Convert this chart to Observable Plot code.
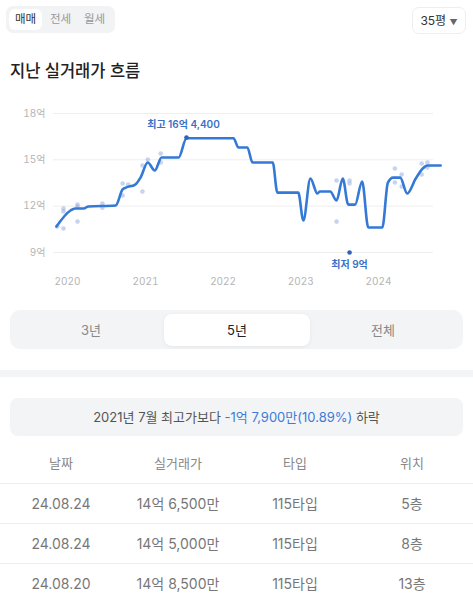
<!DOCTYPE html>
<html><head><meta charset="utf-8">
<script src="https://cdn.jsdelivr.net/npm/d3@7"></script>
<script src="https://cdn.jsdelivr.net/npm/@observablehq/plot@0.6"></script>
<style>
body{margin:0;width:473px;height:599px;background:#fff;font-family:Inter,"Noto Sans CJK KR",sans-serif;position:relative;overflow:hidden;color:#222}
.abs{position:absolute}
.tabs{left:6px;top:6px;width:109px;height:27px;background:#f2f3f5;border-radius:7px}
.tab{position:absolute;top:3px;height:21px;line-height:21px;font-size:11.5px;color:#999;text-align:center;width:33px}
.tab.on{background:#fff;color:#333;border-radius:6px}
.size{left:412px;top:7px;width:52px;height:25px;border:1px solid #eee;border-radius:7px;font-size:12px;line-height:25px;text-align:center;color:#333}
.title{left:10px;top:58px;font-size:16.5px;font-weight:500;color:#222}
#chart{left:0;top:100px}
.seg{left:10px;top:310px;width:453px;height:39px;background:#f3f4f6;border-radius:10px}
.segbtn{position:absolute;top:4px;height:32px;line-height:32px;text-align:center;font-size:13px;color:#888;width:146px}
.segbtn.on{background:#fff;color:#222;border-radius:8px;box-shadow:0 1px 4px rgba(0,0,0,0.06)}
.sep{left:0;top:370px;width:473px;height:7px;background:#f3f4f6}
.info{left:10px;top:398px;width:453px;height:38px;background:#f3f4f6;border-radius:8px;font-size:13px;line-height:38px;text-align:center;color:#555}
.info span{color:#3d7bd9}
.cell{position:absolute;width:120px;margin-left:-60px;text-align:center;font-size:14px;color:#777;font-weight:400;line-height:20px}
.hdr{font-size:13px;color:#888}
.hl{position:absolute;left:0;width:473px;height:1px;background:#eee}
</style></head>
<body>
<div class="abs tabs"><div class="tab on" style="left:3px">매매</div><div class="tab" style="left:38px">전세</div><div class="tab" style="left:72px">월세</div></div>
<div class="abs size">35평 <span style="font-size:8px;color:#666">▼</span></div>
<div class="abs title">지난 실거래가 흐름</div>
<div class="abs" id="chart"></div>
<div class="abs seg"><div class="segbtn" style="left:8px">3년</div><div class="segbtn on" style="left:154px">5년</div><div class="segbtn" style="left:300px">전체</div></div>
<div class="abs sep"></div>
<div class="abs info">2021년 7월 최고가보다 <span>-1억 7,900만(10.89%)</span> 하락</div>
<div id="table"></div>
<script>
// smoothed trend line (억)
const lineDates = ["2019-11-10","2020-01-15","2020-02-06","2020-03-17","2020-04-08","2020-08-14","2020-09-16","2020-10-01","2020-11-14","2020-12-09","2021-01-12","2021-02-14","2021-03-18","2021-06-06","2021-07-13","2022-02-19","2022-03-14","2022-04-25","2022-05-19","2022-08-22","2022-09-13","2022-12-20","2023-01-13","2023-02-15","2023-03-20","2023-04-01","2023-05-19","2023-06-18","2023-07-17","2023-08-12","2023-09-13","2023-10-16","2023-11-14","2024-01-19","2024-02-14","2024-03-10","2024-04-12","2024-05-15","2024-06-24","2024-07-27","2024-08-18","2024-10-19"];
const lineValues = [10.68,11.72,11.85,11.85,11.98,12.04,13.08,13.2,13.4,13.85,14.83,14.31,15.15,15.15,16.4,16.4,15.8,15.8,14.83,14.83,12.88,12.88,11.07,13.79,12.82,12.95,12.95,12.37,13.79,12.1,12.1,13.6,10.62,10.62,13.53,13.85,13.85,12.82,13.79,14.44,14.63,14.63];
// individual transactions (억)
const dealDates = ["2019-11-14","2019-12-13","2019-12-13","2019-12-13","2020-02-17","2020-02-17","2020-02-17","2020-06-13","2020-06-13","2020-09-16","2020-09-16","2020-10-12","2020-12-18","2020-12-18","2021-01-12","2021-03-14","2021-03-14","2023-06-18","2023-06-18","2023-08-18","2023-08-18","2024-03-18","2024-03-18","2024-04-19","2024-04-19","2024-07-22","2024-07-22","2024-08-18","2024-08-18"];
const dealValues = [10.68,10.55,11.85,11.66,11.0,11.98,12.1,12.17,11.9,13.47,12.69,13.4,12.95,14.63,15.02,15.41,14.83,13.66,11.0,13.66,13.47,14.44,13.53,14.05,13.27,14.76,14.05,14.83,14.5];
// extremes
const extremeDates = ["2021-07-13","2023-08-18"];
const extremeValues = [16.44,9.0];
const extremeLabels = ["최고 16억 4,400","최저 9억"];
const yTicks = [9,12,15,18];
// table
const tableHeaders = ["날짜","실거래가","타입","위치"];
const tableDates = ["24.08.24","24.08.24","24.08.20"];
const tablePrices = ["14억 6,500만","14억 5,000만","14억 8,500만"];
const tableTypes = ["115타입","115타입","115타입"];
const tableFloors = ["5층","8층","13층"];

const line = lineDates.map((d,i)=>({date:new Date(d),v:lineValues[i]}));
const deals = dealDates.map((d,i)=>({date:new Date(d),v:dealValues[i]}));
const ext = extremeDates.map((d,i)=>({date:new Date(d),v:extremeValues[i],label:extremeLabels[i],top:i===0}));

const blue = "#3479d6";
const plot = Plot.plot({
  width:473, height:200,
  marginLeft:53, marginRight:40, marginTop:13, marginBottom:48,
  style:{fontFamily:'Inter,"Noto Sans CJK KR",sans-serif',fontSize:"10px",color:"#b5b5b5",background:"transparent"},
  x:{type:"utc",domain:[new Date("2020-01-01"),new Date("2024-01-01")],range:[67,378],label:null},
  y:{domain:[9,18],range:[152,13],label:null},
  marks:[
    Plot.gridY(yTicks,{stroke:"#eeeeee",strokeOpacity:1}),
    Plot.axisY(yTicks,{tickSize:0,tickPadding:8,tickFormat:d=>d+"억",fill:"#b5b5b5",label:null}),
    Plot.axisX({ticks:d3.utcYear.every(1),tickFormat:d3.utcFormat("%Y"),tickSize:0,tickPadding:25,fill:"#b5b5b5",label:null}),
    Plot.dot(deals,{x:"date",y:"v",r:2.3,fill:"#8fa8e0",fillOpacity:0.5,stroke:"none"}),
    Plot.line(line,{x:"date",y:"v",stroke:blue,strokeWidth:2.6,curve:"monotone-x"}),
    Plot.dot(ext,{x:"date",y:"v",r:2.3,fill:"#2d62bf"}),
    Plot.text(ext,{x:"date",y:"v",text:"label",fill:"#3a6fc6",fontWeight:600,fontSize:10,
      filter:d=>d.top,dy:-13,dx:-3}),
    Plot.text(ext,{x:"date",y:"v",text:"label",fill:"#3a6fc6",fontWeight:600,fontSize:10,
      filter:d=>!d.top,dy:12})
  ]
});
document.getElementById("chart").appendChild(plot);

// table
const tbl = document.getElementById("table");
const cx = [61,178,295,412];
function addRow(vals,cy,cls){
  vals.forEach((v,j)=>{const el=document.createElement("div");el.className="cell"+(cls?" "+cls:"");el.style.left=cx[j]+"px";el.style.top=(cy-10)+"px";el.textContent=v;tbl.appendChild(el);});
}
addRow(tableHeaders,463,"hdr");
[483,523,563].forEach(y=>{const l=document.createElement("div");l.className="hl";l.style.top=y+"px";tbl.appendChild(l);});
tableDates.forEach((d,i)=>addRow([d,tablePrices[i],tableTypes[i],tableFloors[i]],504+i*40));
</script>
</body></html>
